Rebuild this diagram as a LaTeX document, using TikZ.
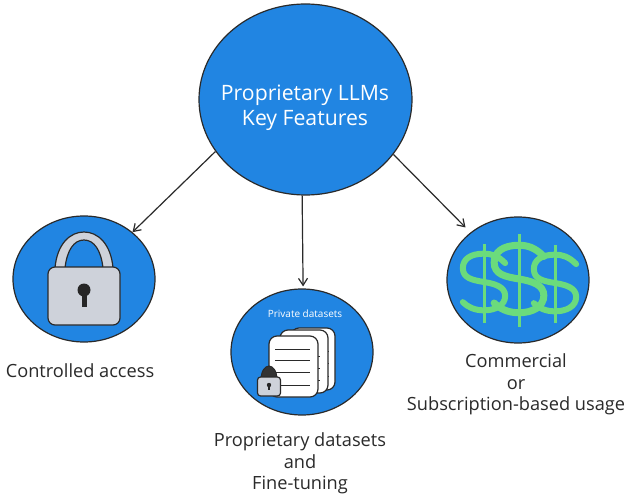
\documentclass[tikz,border=0pt]{standalone}
\usepackage{fontspec}
\setmainfont{Open Sans}
\usetikzlibrary{shapes.geometric,arrows.meta}
\definecolor{bl}{HTML}{2185E2}
\definecolor{gn}{HTML}{6BDB7C}
\definecolor{ink}{HTML}{2A2A2A}
\definecolor{lk}{HTML}{CED2DA}
\tikzset{
 disc/.style={ellipse,draw=ink,line width=1.2pt,fill=bl,minimum width=#1,inner sep=0pt},
 disc/.default=142pt,
 conn/.style={draw=ink,line width=1.2pt,-{Straight Barb[length=7pt,width=9pt]}},
 lab/.style={text=ink,align=center,font=\fontsize{18.2}{21.5}\selectfont},
 dollar/.style={draw=gn,line cap=round},
 lockbody/.style={draw=ink,fill=lk,line width=1.2pt,rounded corners=7pt},
 page/.style={draw=ink,fill=white,line width=1.2pt,rounded corners=8pt},
 rule/.style={draw=ink,line width=1pt}
}
\newcommand{\dollarsign}[5]{% cx cy w h lw
 \begin{scope}[shift={(#1,#2)},x=#3pt,y=-#4pt]
 \draw[dollar,line width=#5pt] (.46,-.3) .. controls (.3,-.42) and (.15,-.45) .. (0,-.45)
   .. controls (-.3,-.45) and (-.46,-.36) .. (-.46,-.22)
   .. controls (-.46,-.06) and (-.25,-.03) .. (0,0)
   .. controls (.25,.03) and (.46,.08) .. (.46,.22)
   .. controls (.46,.37) and (.25,.45) .. (0,.45)
   .. controls (-.2,.45) and (-.35,.4) .. (-.46,.32);
 \end{scope}}
\begin{document}
\begin{tikzpicture}[x=1pt,y=-1pt]
\useasboundingbox[fill=white] (0,0) rectangle (627,500);
\node[disc=213pt,minimum height=191pt] (main) at (305.5,99.5) {};
\node[disc,minimum height=126pt] (lock) at (84,279) {};
\node[disc,minimum height=126pt] (data) at (302,352) {};
\node[disc,minimum height=126pt] (cash) at (518,280) {};
\node[text=white,align=center,font=\fontsize{21.2}{25.5}\selectfont] (title) at (305,108) {Proprietary LLMs\\Key Features};
\draw[conn] (main.210.5) -- (lock.44.5);
\draw[conn,shorten >=2pt] (main.268.2) -- (data.89);
\draw[conn,shorten >=7pt] (main.-32.8) -- (cash.135.5);
% padlock
\draw[draw=ink,fill=lk,line width=1.2pt] (55,268) .. controls (57,244) and (70,232) .. (84,232) .. controls (98,232) and (111,244) .. (113,268) -- (103,268) .. controls (101,250) and (94,240) .. (84,240) .. controls (74,240) and (67,250) .. (65,268) -- cycle;
\draw[lockbody] (48,267) rectangle (120,325);
\fill[black!85] (84,290) circle (6.5pt);
\fill[black!85] (81.5,292) rectangle (86.5,307);
% documents
\node[text=white,font=\fontsize{10}{12}\selectfont] (priv) at (305,314) {Private datasets};
\draw[page] (291,328) rectangle (335,390);
\draw[rule] (326,351)--(329,351) (326,363)--(329,363) (326,376)--(329,376);
\draw[page] (280,330) rectangle (328,393);
\draw[rule] (318,356)--(320,356) (318,368)--(320,368) (318,380)--(320,380);
\draw[page] (269,336) rectangle (318,397);
\draw[rule] (275,349)--(310,349) (275,360)--(310,360) (275,372)--(310,372) (275,385)--(310,385);
\draw[draw=ink,fill=black!80,line width=1pt] (261,380) .. controls (261,371) and (265,366) .. (269,366) .. controls (273,366) and (277,371) .. (277,380) -- cycle;
\draw[draw=ink,fill=lk,line width=1.2pt,rounded corners=3pt] (257.5,377) rectangle (280.5,396);
\fill[black!85] (269,385) circle (2.2pt);
\fill[black!85] (268,386) rectangle (270,390);
% dollars
\dollarsign{484}{282}{46}{63}{6}
\dollarsign{555}{283}{46}{63}{6}
\dollarsign{519}{279}{54}{75}{7}
\draw[gn,line width=3pt] (484,244)--(484,323) (555,245)--(555,323) (519,234)--(519,327);
% labels
\node[lab] (l1) at (80,371) {Controlled access};
\node[lab] (l2) at (300,463.5) {Proprietary datasets\\and\\Fine-tuning};
\node[lab] (l3) at (516,384.5) {Commercial\\or\\Subscription-based usage};
\end{tikzpicture}
\end{document}
